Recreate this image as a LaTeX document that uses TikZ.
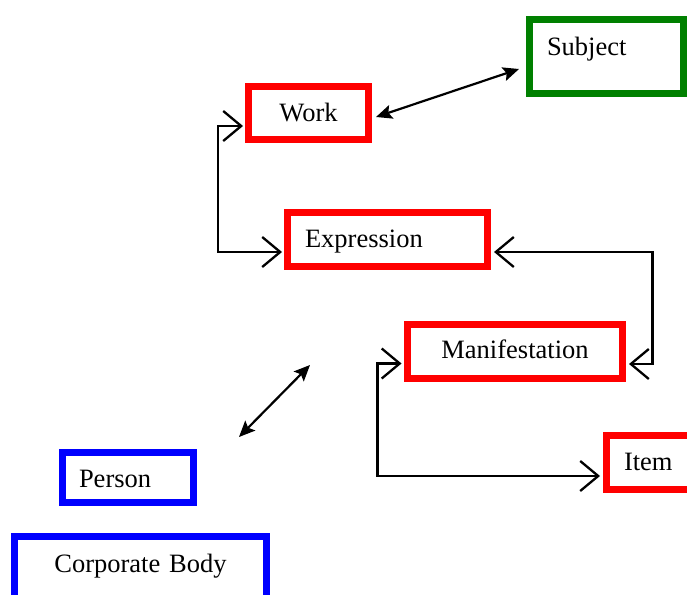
\documentclass[tikz,border=0pt]{standalone}
\usepackage{fontspec}
\setmainfont{Liberation Serif}
\usetikzlibrary{arrows.meta}
\definecolor{subjgreen}{RGB}{0,128,0}
\tikzset{
  entity/.style={draw, line width=7pt, inner ysep=0pt, outer sep=0pt,
    font=\fontsize{26.5}{30}\selectfont, text height=34.5pt},
  leftbox/.style={entity, align=left, inner xsep=17.5pt},
  midbox/.style={entity, align=center, inner xsep=0pt},
  relation/.style={line width=2.3pt,
    {Straight Barb[length=18pt,width=30pt]}-{Straight Barb[length=18pt,width=30pt]}},
  assoc/.style={line width=2.2pt,
    {Stealth[length=16pt,width=14pt,inset=3pt]}-{Stealth[length=16pt,width=14pt,inset=3pt]}}
}
\begin{document}
\begin{tikzpicture}[x=1pt,y=-1pt]
            \useasboundingbox (0,0) rectangle (687,594);
            \clip (0,0) rectangle (687,594);
            \fill[white] (0,0) rectangle (687,594);

            % Group 1 entities
            \node[midbox, red, text=black, text width=120pt, text depth=18.5pt] (work) at (308.5,113) {Work};
            \node[leftbox, red, text=black, text width=165pt, text depth=19.5pt] (expression) at (387.5,239.5) {Expression};
            \node[midbox, red, text=black, text width=215pt, text depth=20pt] (manifestation) at (515,351.5) {Manifestation};
            \node[leftbox, red, text=black, text width=60pt, text depth=19.5pt] (item) at (654,462.5) {Item};

            % Group 2 entities
            \node[leftbox, blue, text=black, text width=98pt, inner xsep=16.5pt, text depth=15pt] (person) at (128,477.5) {Person};
            \node[midbox, blue, text=black, text width=252pt, text height=35.5pt, text depth=28.5pt] (corporate) at (140.5,568.5) {Corporate Body};

            % Group 3 entity
            \node[leftbox, subjgreen, text=black, text width=119pt, text height=36pt, text depth=38pt] (subject) at (606.5,56.5) {Subject};

            % Relationships
            \draw[assoc] ([xshift=7.5pt,yshift=-4pt]work.east) -- ([xshift=-10.5pt,yshift=-12.5pt]subject.west);
            \draw[relation] ([xshift=-5.5pt,yshift=-13pt]work.west) -- ++(-25,0) |- ([xshift=-5.5pt,yshift=-12.5pt]expression.west);
            \draw[relation] ([xshift=6.5pt,yshift=-12.5pt]expression.east) -- ++(158.5,0) |- ([xshift=6.5pt,yshift=-12.5pt]manifestation.east);
            \draw[relation] ([xshift=-6pt,yshift=-12pt]manifestation.west) -- ++(-24,0) |- ([xshift=-6.5pt,yshift=-13.5pt]item.west);

            % Responsibility link
            \coordinate (agentend) at (239,437);
            \coordinate (groupend) at (310,365);
            \draw[assoc] (agentend) -- (groupend);
        \end{tikzpicture}
\end{document}
